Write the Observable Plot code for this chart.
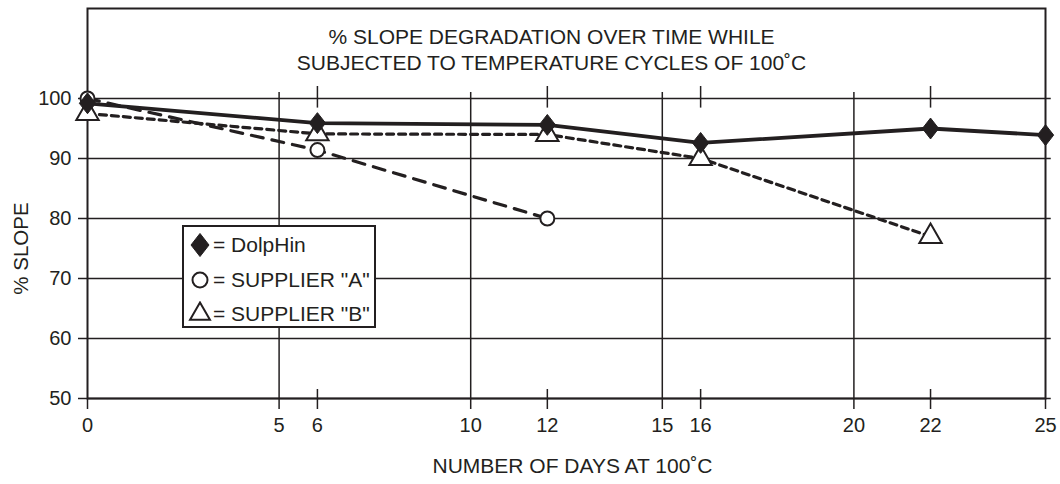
<!DOCTYPE html>
<html>
<head>
<meta charset="utf-8">
<script src="https://cdn.jsdelivr.net/npm/d3@7"></script>
<script src="https://cdn.jsdelivr.net/npm/@observablehq/plot@0.6"></script>
<style>
  body { margin: 0; background: #fff; }
  #chart { position: relative; width: 1060px; height: 484px; font-family: "Liberation Sans", Arial, sans-serif; color: #231f20; }
  #chart svg.plot { position: absolute; left: 0; top: 0; overflow: visible; }
  #legend { position: absolute; left: 182px; top: 225px; width: 190px; height: 99px; border: 2px solid #231f20; background: #fff; box-sizing: content-box; }
  #legend .row { position: absolute; left: 4px; height: 26px; display: flex; align-items: center; font-size: 21px; white-space: nowrap; }
  #legend svg { margin-right: 1px; }
</style>
</head>
<body>
<div id="chart"></div>
<script>
// ---- data ----
const days = [0, 6, 12, 16, 22, 25];
const dolphin = [99.2, 95.9, 95.6, 92.6, 95.0, 93.9];
const daysA = [0, 6, 12];
const supplierA = [100, 91.4, 80];
const daysB = [0, 6, 12, 16, 22];
const supplierB = [97.5, 94.1, 94.0, 90.0, 77.0];
const xTicks = [0, 5, 6, 10, 12, 15, 16, 20, 22, 25];
const xGrid = [5, 10, 15, 20];
const xMinor = [6, 12, 16, 22];
const yTicks = [50, 60, 70, 80, 90, 100];
const titleLines = ["% SLOPE DEGRADATION OVER TIME WHILE", "SUBJECTED TO TEMPERATURE CYCLES OF 100˚C"];
const xTitle = "NUMBER OF DAYS AT 100˚C";
const yTitle = "% SLOPE";
const seriesNames = ["DolpHin", 'SUPPLIER "A"', 'SUPPLIER "B"'];

const ink = "#231f20";
const tD = days.map((d, i) => ({day: d, v: dolphin[i]}));
const tA = daysA.map((d, i) => ({day: d, v: supplierA[i]}));
const tB = daysB.map((d, i) => ({day: d, v: supplierB[i]}));

const diamondTall = {
  draw(ctx, size) {
    const h = Math.sqrt(size) * 0.62, w = h * 0.78;
    ctx.moveTo(0, -h); ctx.lineTo(w, 0); ctx.lineTo(0, h); ctx.lineTo(-w, 0); ctx.closePath();
  }
};

const chart = Plot.plot({
  width: 1060,
  height: 484,
  marginLeft: 87,
  marginRight: 15,
  marginTop: 8,
  marginBottom: 86,
  style: {fontFamily: '"Liberation Sans", Arial, sans-serif', color: ink, background: "#fff"},
  x: {domain: [0, 25]},
  y: {domain: [50, 115]},
  marks: [
    Plot.ruleY(yTicks, {x1: 0, x2: 25.15, stroke: ink, strokeWidth: 1.5}),
    Plot.ruleX(xGrid, {y1: 50, y2: 101, stroke: ink, strokeWidth: 1.5}),
    Plot.ruleX(xMinor, {y1: 98.4, y2: 102, stroke: ink, strokeWidth: 1.5}),
    Plot.ruleX(xMinor, {y1: 50, y2: 51.5, stroke: ink, strokeWidth: 1.5}),
    Plot.frame({stroke: ink, strokeWidth: 2}),
    Plot.axisX(xTicks, {tickSize: 11, tickPadding: 8, fontSize: 20, label: null, stroke: ink, strokeWidth: 1.5, fill: ink}),
    Plot.axisY(yTicks, {tickSize: 9, tickPadding: 7, fontSize: 20, label: null, stroke: ink, strokeWidth: 1.5, fill: ink}),
    Plot.text([titleLines.join("\n")], {frameAnchor: "top", dx: -15, dy: 18, lineAnchor: "top", lineHeight: 1.2, fontSize: 21, fill: ink}),
    Plot.text([xTitle], {frameAnchor: "bottom", dx: 6, dy: 68, lineAnchor: "middle", fontSize: 21, fill: ink}),
    Plot.text([yTitle], {frameAnchor: "left", y: [d3.mean(yTicks)], dx: -66, rotate: -90, textAnchor: "middle", lineAnchor: "middle", fontSize: 20.5, fill: ink}),
    Plot.line(tB, {x: "day", y: "v", stroke: ink, strokeWidth: 3.2, strokeDasharray: "7,5"}),
    Plot.line(tA, {x: "day", y: "v", stroke: ink, strokeWidth: 3.2, strokeDasharray: "12,9"}),
    Plot.line(tD, {x: "day", y: "v", stroke: ink, strokeWidth: 3.8}),
    Plot.dot(tB, {x: "day", y: "v", symbol: "triangle", r: 8.3, fill: "#fff", stroke: ink, strokeWidth: 2}),
    Plot.dot(tA, {x: "day", y: "v", symbol: "circle", r: 7, fill: "#fff", stroke: ink, strokeWidth: 2}),
    Plot.dot(tD, {x: "day", y: "v", symbol: diamondTall, r: 9.5, fill: ink, stroke: ink, strokeWidth: 1})
  ]
});

const root = document.getElementById("chart");
root.appendChild(chart);

// legend
const legend = document.createElement("div");
legend.id = "legend";
root.appendChild(legend);
const symbols = [diamondTall, d3.symbolCircle, d3.symbolTriangle2];
const sizes = [10.5 * 10.5 * Math.PI, 7.5 * 7.5 * Math.PI, 9.5 * 9.5 * Math.PI];
const fills = [ink, "#fff", "#fff"];
const rowTops = [5, 40, 74];
seriesNames.forEach((name, i) => {
  const row = document.createElement("div");
  row.className = "row";
  row.style.top = rowTops[i] + "px";
  const svg = d3.create("svg").attr("width", 24).attr("height", 26);
  svg.append("path")
    .attr("transform", "translate(12,13)")
    .attr("d", d3.symbol(symbols[i], sizes[i])())
    .attr("fill", fills[i]).attr("stroke", ink).attr("stroke-width", i === 0 ? 1 : 2);
  row.appendChild(svg.node());
  const span = document.createElement("span");
  span.textContent = "= " + name;
  row.appendChild(span);
  legend.appendChild(row);
});
</script>
</body>
</html>
